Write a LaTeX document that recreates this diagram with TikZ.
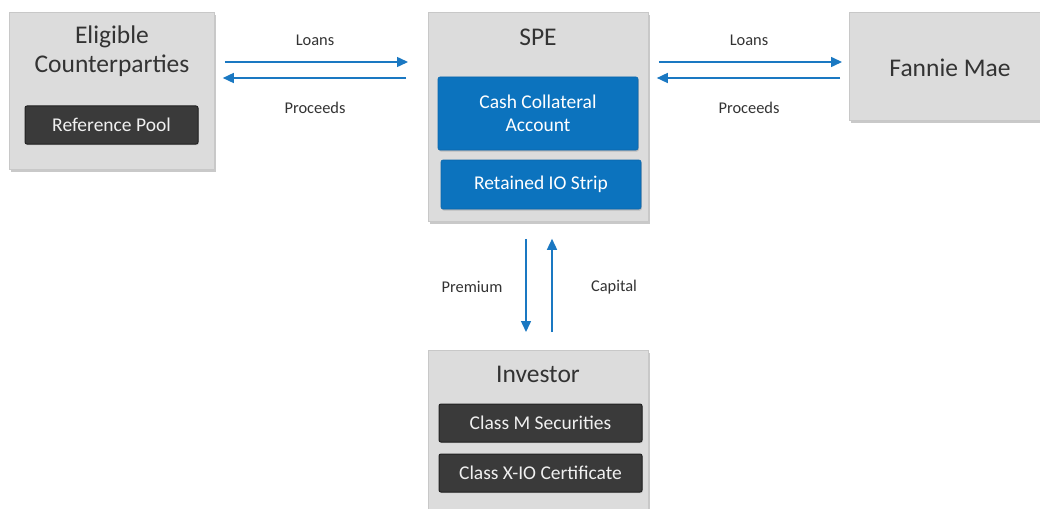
\documentclass[tikz,border=0pt]{standalone}
\usepackage{fontspec}
\setmainfont{Carlito}
\usetikzlibrary{arrows.meta,shadows}
\definecolor{boxgray}{HTML}{DCDCDC}
\definecolor{boxedge}{HTML}{C8C8C8}
\definecolor{darkbox}{HTML}{3A3A3A}
\definecolor{darkedge}{HTML}{222222}
\definecolor{bluebox}{HTML}{0C73BE}
\definecolor{arrowblue}{HTML}{1A78C2}
\definecolor{txt}{HTML}{333333}
\tikzset{
  outer/.style={draw=boxedge, line width=0.8pt, fill=boxgray, anchor=north west, inner sep=0pt,
    drop shadow={shadow xshift=1.5pt, shadow yshift=-2.5pt, opacity=0.35, fill=black!60}},
  title/.style={text=txt, font=\fontsize{25.5}{29}\selectfont, align=center, inner sep=0pt},
  darkitem/.style={fill=darkbox, draw=darkedge, line width=1pt, rounded corners=2pt, text=white!94!black,
    font=\fontsize{19.5}{22}\selectfont, inner sep=0pt,
    drop shadow={shadow xshift=0.8pt, shadow yshift=-1.2pt, opacity=0.3}},
  blueitem/.style={fill=bluebox, draw=bluebox!90!black, line width=0.6pt, rounded corners=2pt, text=white,
    font=\fontsize{19.5}{22.5}\selectfont, align=center, inner sep=0pt,
    drop shadow={shadow xshift=0.8pt, shadow yshift=-1.5pt, opacity=0.35}},
  flowlabel/.style={text=txt, font=\fontsize{16.4}{19}\selectfont, inner sep=0pt},
  arr/.style={draw=arrowblue, line width=1.5pt, -{Triangle[length=11pt,width=10pt]}}
}
\begin{document}
\begin{tikzpicture}[x=1pt,y=-1pt]
\useasboundingbox (0,0) rectangle (1040,508);
\fill[white] (0,0) rectangle (1040,508);

% outer boxes
\node[outer, minimum width=205pt, minimum height=157pt] (ec) at (9,12) {};
\node[outer, minimum width=220pt, minimum height=209pt] (spe) at (428,12) {};
\node[outer, minimum width=200pt, minimum height=108pt] (fm) at (849,12) {};
\node[outer, minimum width=220pt, minimum height=170pt] (inv) at (428,350) {};

% titles
\node[title] (ectitle) at (112,51) {Eligible\\Counterparties};
\node[title] (spetitle) at (538,37) {SPE};
\node[title] (fmtitle) at (950,68) {Fannie Mae};
\node[title] (invtitle) at (538,374) {Investor};

% inner items
\node[darkitem, minimum width=173pt, minimum height=38pt] (refpool) at (111.5,125) {Reference Pool};
\node[blueitem, minimum width=200pt, minimum height=73pt] (cash) at (538,113.5) {Cash Collateral\\Account};
\node[blueitem, minimum width=200pt, minimum height=49pt] (retained) at (541,184.5) {Retained IO Strip};
\node[darkitem, minimum width=203pt, minimum height=38pt] (classm) at (540.5,423) {Class M Securities};
\node[darkitem, minimum width=203pt, minimum height=38pt] (classx) at (540.5,473) {Class X-IO Certificate};

% helper rows / columns
\coordinate (rowA) at (0,62);
\coordinate (rowB) at (0,78);
\coordinate (colP) at (526,0);
\coordinate (colC) at (552,0);

% connectors
\draw[arr, shorten <=10pt, shorten >=20pt] (ec.east |- rowA) -- (spe.west |- rowA);
\draw[arr, shorten <=22pt, shorten >=8pt] (spe.west |- rowB) -- (ec.east |- rowB);
\draw[arr, shorten <=10pt, shorten >=7pt] (spe.east |- rowA) -- (fm.west |- rowA);
\draw[arr, shorten <=9pt, shorten >=8pt] (fm.west |- rowB) -- (spe.east |- rowB);
\draw[arr, shorten <=17pt, shorten >=18pt] (colP |- spe.south) -- (colP |- inv.north);
\draw[arr, shorten <=18pt, shorten >=17pt] (colC |- inv.north) -- (colC |- spe.south);

% labels
\node[flowlabel] (l1) at (315,40) {Loans};
\node[flowlabel] (p1) at (315,108) {Proceeds};
\node[flowlabel] (l2) at (749,40) {Loans};
\node[flowlabel] (p2) at (749,108) {Proceeds};
\node[flowlabel] (prem) at (472,287) {Premium};
\node[flowlabel] (cap) at (614,287) {Capital};
\end{tikzpicture}
\end{document}
